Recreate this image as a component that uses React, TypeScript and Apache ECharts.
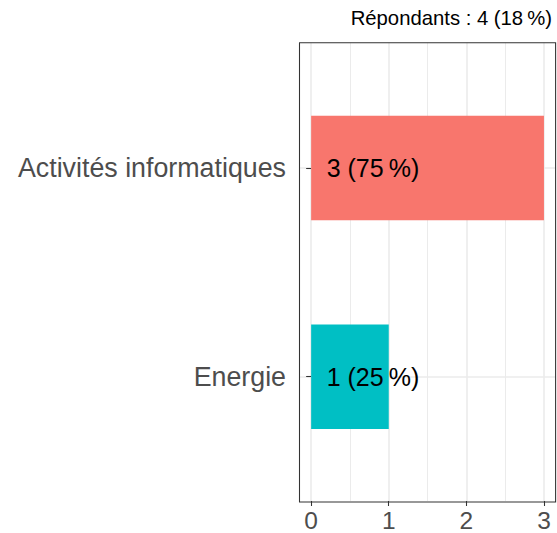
import React, { useEffect, useRef } from "react";
import * as echarts from "echarts";

const categories = ["Energie", "Activités informatiques"];
const counts = [1, 3];
const colors = ["#00BFC4", "#F8766D"];
const total = 4;
const totalPct = 18;
const xTicks = [0, 1, 2, 3];

const FONT = '"Liberation Sans", Arial, Helvetica, sans-serif';

export default function App() {
  const ref = useRef<HTMLDivElement>(null);
  useEffect(() => {
    if (!ref.current) return;
    const chart = echarts.init(ref.current, null, { renderer: "svg" });
    const panel = { left: 299.5, top: 42.7, right: 555.6, bottom: 502 };
    const xMin = xTicks[0];
    const xMax = xTicks[xTicks.length - 1];
    const pxPerUnit = (panel.right - panel.left) / (xMax - xMin + 0.3);
    const x0 = panel.left + 0.15 * pxPerUnit;
    const x3 = x0 + (xMax - xMin) * pxPerUnit;
    const catUnit = (panel.bottom - panel.top) / 2.2;
    const yBottomCat = panel.bottom - 0.6 * catUnit;
    const yTopCat = panel.bottom - 1.6 * catUnit;

    chart.setOption({
      animation: false,
      textStyle: { fontFamily: FONT },
      title: {
        text: `Répondants : ${total} (${totalPct}\u202F%)`,
        right: 5,
        top: 8,
        padding: 0,
        textStyle: { fontFamily: FONT, fontSize: 20.3, fontWeight: "normal", color: "#000" },
      },
      grid: [
        { left: x0, right: 557 - x3, top: panel.top, bottom: 533 - panel.bottom },
        { left: panel.left, right: 557 - panel.right, top: yTopCat, bottom: 533 - yBottomCat },
      ],
      xAxis: [
        {
          gridIndex: 0,
          type: "value",
          min: xMin,
          max: xMax,
          interval: 1,
          splitNumber: 3,
          axisLine: { show: false },
          axisTick: { show: true, length: 5, lineStyle: { color: "#333333", width: 1.07 } },
          axisLabel: { fontSize: 24.5, color: "#4D4D4D", margin: 7, fontFamily: FONT },
          splitLine: { show: true, lineStyle: { color: "#EBEBEB", width: 1.6 } },
          minorTick: { show: false, splitNumber: 2 },
          minorSplitLine: { show: true, lineStyle: { color: "#EBEBEB", width: 1.0 } },
        },
        {
          gridIndex: 1,
          type: "value",
          min: xMin - 0.15,
          max: xMax + 0.15,
          show: false,
        },
      ],
      yAxis: [
        { gridIndex: 0, type: "value", min: 0, max: 1, show: false },
        {
          gridIndex: 1,
          type: "category",
          data: categories,
          boundaryGap: false,
          axisLine: { show: false },
          axisTick: { show: true, length: 5, lineStyle: { color: "#333333", width: 1.07 } },
          axisLabel: { fontSize: 26.8, color: "#4D4D4D", margin: 13.5, fontFamily: FONT },
          splitLine: { show: true, lineStyle: { color: "#EBEBEB", width: 1.6 } },
        },
      ],
      series: [
        {
          type: "bar",
          xAxisIndex: 1,
          yAxisIndex: 1,
          barWidth: 0.5 * catUnit,
          data: counts.map((v, i) => ({ value: v, itemStyle: { color: colors[i] } })),
          label: {
            show: true,
            position: [0.2 * pxPerUnit, "50%"],
            align: "left",
            verticalAlign: "middle",
            fontSize: 25,
            color: "#000",
            fontFamily: FONT,
            formatter: (p: any) => `${p.value} (${Math.round((p.value / total) * 100)}\u202F%)`,
          },
          z: 3,
        },
      ],
      graphic: [
        {
          type: "rect",
          z: 100,
          silent: true,
          shape: {
            x: panel.left,
            y: panel.top,
            width: panel.right - panel.left,
            height: panel.bottom - panel.top,
          },
          style: { fill: "none", stroke: "#333333", lineWidth: 1.07 },
        },
      ],
    });
    return () => chart.dispose();
  }, []);
  return (
    <div
      ref={ref}
      style={{ position: "fixed", left: 0, top: 0, width: 557, height: 533, background: "#fff" }}
    />
  );
}
